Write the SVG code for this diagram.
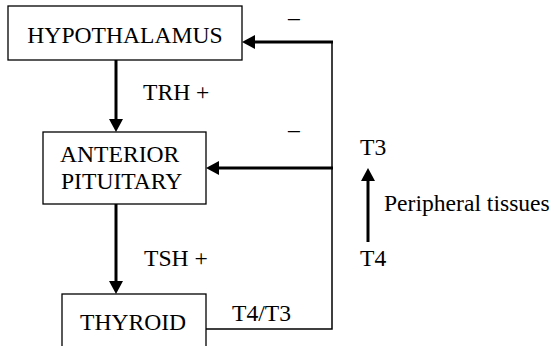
<svg xmlns="http://www.w3.org/2000/svg" width="554" height="346" viewBox="0 0 554 346">
<style>
.box{fill:#fff;stroke:#000;stroke-width:1.3}
.thick{stroke:#000;stroke-width:3;fill:none}
.thin{stroke:#000;stroke-width:1.5;fill:none}
.head{fill:#000}
</style>
<rect width="554" height="346" fill="#fff"/>
<g id="connectors">
<line class="thick" x1="116" y1="60" x2="116" y2="122"/>
<polygon class="head" points="109,119 123,119 116,132"/>
<line class="thick" x1="116" y1="204" x2="116" y2="284"/>
<polygon class="head" points="109,281 123,281 116,294"/>
<polyline class="thin" points="206,329 332,329 332,42"/>
<line class="thick" x1="333" y1="42" x2="252" y2="42"/>
<polygon class="head" points="255,35 255,49 242,42"/>
<line class="thick" x1="333" y1="168" x2="216" y2="168"/>
<polygon class="head" points="219,161 219,175 206,168"/>
<line class="thick" x1="368" y1="242" x2="368" y2="178"/>
<polygon class="head" points="361,181 375,181 368,168"/>
</g>
<g font-family="Liberation Serif, Times New Roman, serif" font-size="23.6" fill="#000">
<g id="hypothalamus">
<rect class="box" x="8" y="6" width="234" height="54"/>
<text x="125" y="43" text-anchor="middle">HYPOTHALAMUS</text>
</g>
<g id="anterior-pituitary">
<rect class="box" x="43" y="132" width="163" height="72"/>
<text x="60" y="162">ANTERIOR</text>
<text x="61" y="189">PITUITARY</text>
</g>
<g id="thyroid">
<rect class="box" x="62" y="294" width="144" height="60"/>
<text x="80" y="330">THYROID</text>
</g>
<g id="labels">
<text x="143" y="100">TRH +</text>
<text x="144" y="266">TSH +</text>
<text x="232" y="321">T4/T3</text>
<text x="288" y="25">–</text>
<text x="288" y="137">–</text>
<text x="360" y="155">T3</text>
<text x="384" y="211">Peripheral tissues</text>
<text x="360" y="266">T4</text>
</g>
</g>
</svg>
